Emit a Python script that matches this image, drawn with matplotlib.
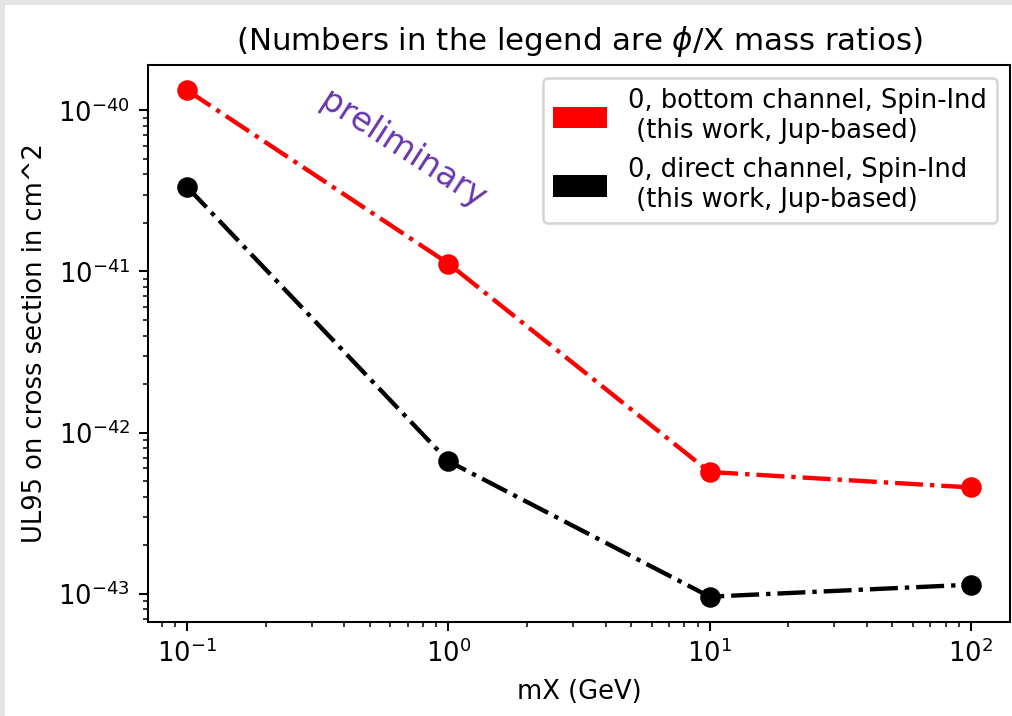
import matplotlib
matplotlib.use("Agg")
import matplotlib.pyplot as plt
from matplotlib.patches import Patch, Rectangle

# data
mX = [0.1, 1, 10, 100]
ul_bottom = [1.33e-40, 1.12e-41, 5.7e-43, 4.57e-43]
ul_direct = [3.34e-41, 6.65e-43, 9.6e-44, 1.14e-43]
labels = ["0, bottom channel, Spin-Ind\n (this work, Jup-based)",
          "0, direct channel, Spin-Ind\n (this work, Jup-based)"]
colors = ["red", "black"]

DPI = 185
fig = plt.figure(figsize=(1013 / DPI, 716 / DPI), dpi=DPI)
fig.patch.set_facecolor("#e4e4e2")
# white page area (the reference has a thin textured border on top/left)
fig.patches.append(Rectangle((5 / 1013, 0), 1, 1 - 5 / 716, transform=fig.transFigure,
                             facecolor="white", edgecolor="none", zorder=-10))

ax = fig.add_axes([148 / 1013, 1 - 622 / 716, (1010 - 148) / 1013, (622 - 65) / 716])

ax.plot(mX, ul_bottom, "-.", color=colors[0], lw=1.7, marker="o", markersize=7)
ax.plot(mX, ul_direct, "-.", color=colors[1], lw=1.7, marker="o", markersize=7)

ax.set_xscale("log")
ax.set_yscale("log")

ax.set_xlabel("mX (GeV)")
ax.set_ylabel("UL95 on cross section in cm^2")
ax.set_title(r"(Numbers in the legend are $\phi$/X mass ratios)")

handles = [Patch(facecolor=c, edgecolor="none") for c in colors]
ax.legend(handles, labels, loc="upper right", handlelength=2.1, handleheight=0.9)

ax.text(0.296, 0.847, "preliminary", transform=ax.transAxes, rotation=-33,
        ha="center", va="center", fontsize=13, color="#6a36b0")

fig.savefig("out.png", dpi=DPI, facecolor=fig.get_facecolor())
